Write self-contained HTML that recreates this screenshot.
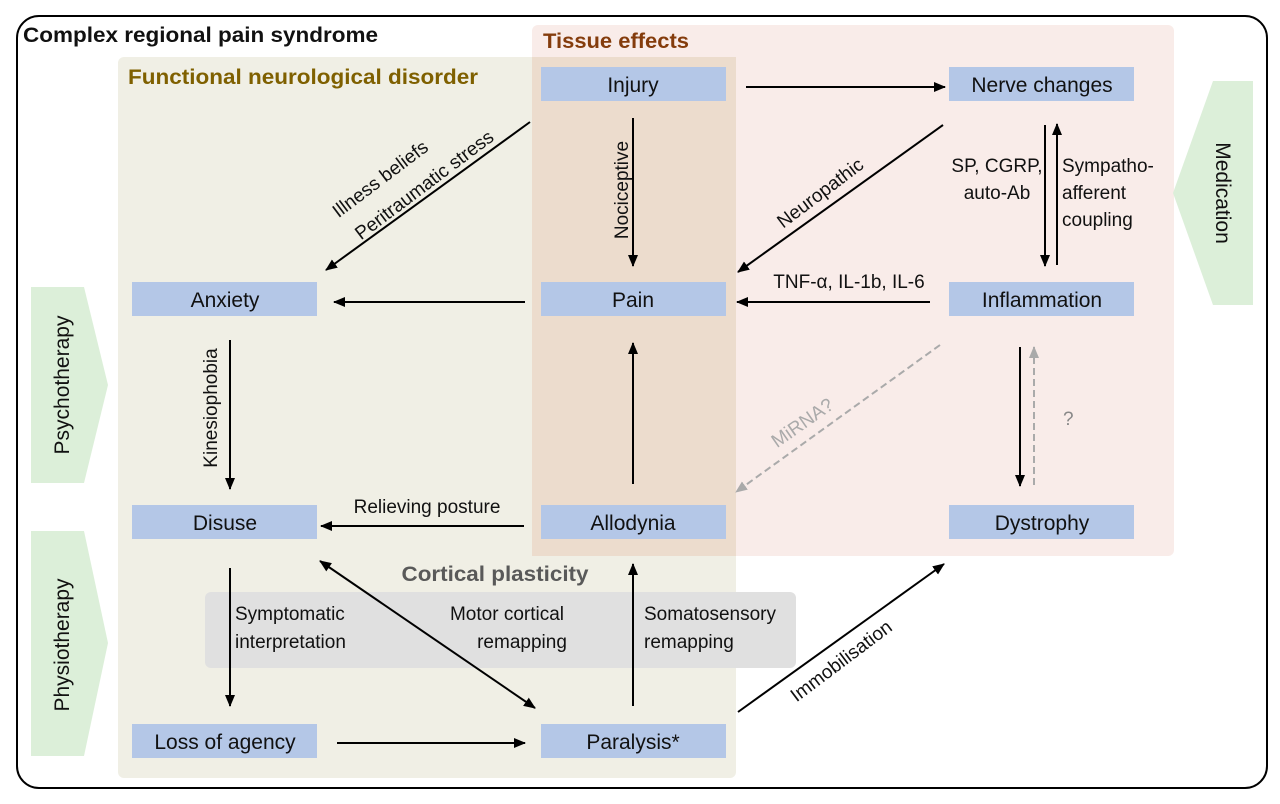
<!DOCTYPE html>
<html><head><meta charset="utf-8"><style>
html,body{margin:0;padding:0;background:#fff}
svg{display:block}
text{font-family:"Liberation Sans",sans-serif;fill:#111}
</style></head><body>
<svg width="1280" height="804" viewBox="0 0 1280 804" xmlns="http://www.w3.org/2000/svg">
<defs>
<marker id="a" markerWidth="14" markerHeight="14" refX="11" refY="6" orient="auto" markerUnits="userSpaceOnUse"><path d="M0,1 L12,6 L0,11 Z" fill="#000"/></marker>
<marker id="g" markerWidth="14" markerHeight="14" refX="11" refY="6" orient="auto" markerUnits="userSpaceOnUse"><path d="M0,1 L12,6 L0,11 Z" fill="#aaa"/></marker>
<marker id="s" markerWidth="14" markerHeight="14" refX="1" refY="6" orient="auto" markerUnits="userSpaceOnUse"><path d="M12,1 L0,6 L12,11 Z" fill="#000"/></marker>
</defs>
<rect x="17" y="16" width="1250" height="772" rx="22" fill="#fff" stroke="#000" stroke-width="2"/>
<rect x="532" y="25" width="642" height="531" rx="6" fill="#f9ece9"/>
<rect x="118" y="57" width="618" height="721" rx="6" fill="#f0efe5"/>
<rect x="532" y="57" width="204" height="499" fill="#ecdccd"/>
<rect x="205" y="592" width="591" height="76" rx="6" fill="#e0e0e0"/>
<polygon points="31,287 84,287 108,385 84,483 31,483" fill="#dcefd9"/>
<polygon points="31,531 84,531 108,643 84,756 31,756" fill="#dcefd9"/>
<polygon points="1253,81 1213,81 1173,193 1213,305 1253,305" fill="#dcefd9"/>
<text font-size="21" text-anchor="middle" transform="translate(69,385) rotate(-90)">Psychotherapy</text>
<text font-size="21" text-anchor="middle" transform="translate(69,645) rotate(-90)">Physiotherapy</text>
<text font-size="21" text-anchor="middle" transform="translate(1216,193) rotate(90)">Medication</text>
<text x="23" y="42" font-size="21" font-weight="bold" textLength="355" lengthAdjust="spacingAndGlyphs">Complex regional pain syndrome</text>
<text x="543" y="48" font-size="21" font-weight="bold" style="fill:#843c0c" textLength="146" lengthAdjust="spacingAndGlyphs">Tissue effects</text>
<text x="128" y="84" font-size="21" font-weight="bold" style="fill:#7f6000" textLength="350" lengthAdjust="spacingAndGlyphs">Functional neurological disorder</text>
<text x="495" y="581" font-size="21" font-weight="bold" text-anchor="middle" style="fill:#595959" textLength="187" lengthAdjust="spacingAndGlyphs">Cortical plasticity</text>
<g fill="#b4c7e7">
<rect x="541" y="67" width="185" height="34"/><rect x="949" y="67" width="185" height="34"/>
<rect x="132" y="282" width="185" height="34"/><rect x="541" y="282" width="185" height="34"/><rect x="949" y="282" width="185" height="34"/>
<rect x="132" y="505" width="185" height="34"/><rect x="541" y="505" width="185" height="34"/><rect x="949" y="505" width="185" height="34"/>
<rect x="132" y="724" width="185" height="34"/><rect x="541" y="724" width="185" height="34"/>
</g>
<g font-size="21" text-anchor="middle">
<text x="633" y="92">Injury</text><text x="1042" y="92">Nerve changes</text>
<text x="225" y="307">Anxiety</text><text x="633" y="307">Pain</text><text x="1042" y="307">Inflammation</text>
<text x="225" y="530">Disuse</text><text x="633" y="530">Allodynia</text><text x="1042" y="530">Dystrophy</text>
<text x="225" y="749">Loss of agency</text><text x="633" y="749">Paralysis*</text>
</g>
<g stroke="#000" stroke-width="2" fill="none" marker-end="url(#a)">
<line x1="746" y1="87" x2="945" y2="87"/>
<line x1="1045" y1="125" x2="1045" y2="266"/>
<line x1="1057" y1="265" x2="1057" y2="124"/>
<line x1="930" y1="302" x2="737" y2="302"/>
<line x1="525" y1="302" x2="334" y2="302"/>
<line x1="633" y1="118" x2="633" y2="266"/>
<line x1="943" y1="125" x2="738" y2="272"/>
<line x1="530" y1="122" x2="326" y2="270"/>
<line x1="230" y1="340" x2="230" y2="489"/>
<line x1="633" y1="484" x2="633" y2="343"/>
<line x1="524" y1="526" x2="321" y2="526"/>
<line x1="1020" y1="347" x2="1020" y2="486"/>
<line x1="230" y1="568" x2="230" y2="706"/>
<line x1="320" y1="561" x2="535" y2="708" marker-start="url(#s)"/>
<line x1="633" y1="706" x2="633" y2="564"/>
<line x1="337" y1="743" x2="525" y2="743"/>
<line x1="738" y1="712" x2="944" y2="564"/>
</g>
<g stroke="#aaa" stroke-width="2" fill="none" stroke-dasharray="7,4" marker-end="url(#g)">
<line x1="940" y1="345" x2="736" y2="492"/>
<line x1="1034" y1="485" x2="1034" y2="347"/>
</g>
<g font-size="19">
<text transform="translate(384,184) rotate(-37)" text-anchor="middle">Illness beliefs</text>
<text transform="translate(428,190) rotate(-37)" text-anchor="middle">Peritraumatic stress</text>
<text transform="translate(628,190) rotate(-90)" text-anchor="middle">Nociceptive</text>
<text transform="translate(824,198) rotate(-37)" text-anchor="middle">Neuropathic</text>
<text x="997" y="172" text-anchor="middle">SP, CGRP,</text>
<text x="997" y="199" text-anchor="middle">auto-Ab</text>
<text x="1062" y="172">Sympatho-</text>
<text x="1062" y="199">afferent</text>
<text x="1062" y="226">coupling</text>
<text x="849" y="288" text-anchor="middle">TNF-α, IL-1b, IL-6</text>
<text transform="translate(217,408) rotate(-90)" text-anchor="middle">Kinesiophobia</text>
<text x="427" y="513" text-anchor="middle">Relieving posture</text>
<text transform="translate(806,428) rotate(-35)" text-anchor="middle" style="fill:#aaa">MiRNA?</text>
<text x="1063" y="425" style="fill:#888">?</text>
<text x="235" y="620">Symptomatic</text>
<text x="235" y="648">interpretation</text>
<text x="507" y="620" text-anchor="middle">Motor cortical</text>
<text x="522" y="648" text-anchor="middle">remapping</text>
<text x="644" y="620">Somatosensory</text>
<text x="644" y="648">remapping</text>
<text transform="translate(845,666) rotate(-37)" text-anchor="middle">Immobilisation</text>
</g>
</svg>
</body></html>
